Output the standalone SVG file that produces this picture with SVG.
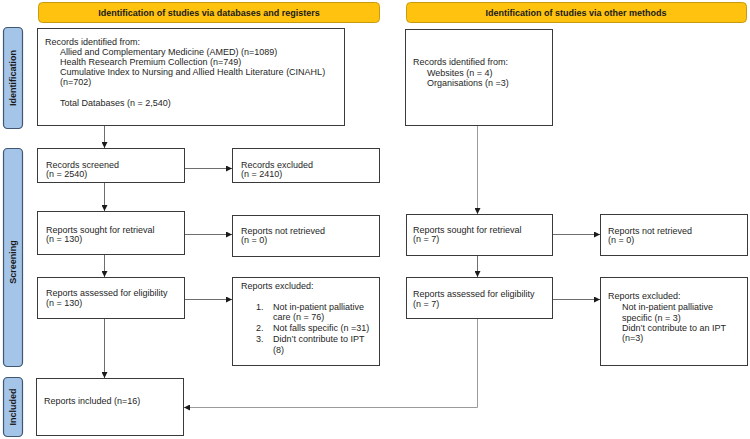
<svg xmlns="http://www.w3.org/2000/svg" width="750" height="439" viewBox="0 0 750 439">
<defs>
<style>
.hdr{fill:#FFC20E;stroke:#C89A10;stroke-width:1}
.side{fill:#A4C4E8;stroke:#3F5770;stroke-width:1.2}
.box{fill:#fff;stroke:#3a3a3a;stroke-width:1}
text{font-family:"Liberation Sans",Arial,sans-serif;font-size:9px;fill:#262626}
.b{font-weight:bold;fill:#1a1a1a}
.ln{fill:none;stroke:#6e6e6e;stroke-width:1}
.ln2{fill:none;stroke:#9a9a9a;stroke-width:1}
</style>
<marker id="ah" viewBox="0 0 10 10" refX="10" refY="5" markerWidth="6" markerHeight="6" orient="auto" markerUnits="userSpaceOnUse">
<path d="M0,0 L10,5 L0,10 z" fill="#1a1a1a"/>
</marker>
</defs>
<rect width="750" height="439" fill="#fff"/>

<g id="header-left"><rect class="hdr" x="38.5" y="2.5" width="341" height="20" rx="4"/><text class="b" x="209" y="15.5" text-anchor="middle">Identification of studies via databases and registers</text></g>
<g id="header-right"><rect class="hdr" x="406.5" y="2.5" width="340" height="20" rx="4"/><text class="b" x="576" y="15.5" text-anchor="middle">Identification of studies via other methods</text></g>

<g id="side-identification"><rect class="side" x="3.5" y="27.5" width="19" height="101" rx="4"/><text class="b" transform="translate(16,78) rotate(-90)" text-anchor="middle">Identification</text></g>
<g id="side-screening"><rect class="side" x="3.5" y="148.5" width="19" height="218" rx="4"/><text class="b" transform="translate(16,262) rotate(-90)" text-anchor="middle">Screening</text></g>
<g id="side-included"><rect class="side" x="3.5" y="377.5" width="19" height="59" rx="4"/><text class="b" transform="translate(16,407) rotate(-90)" text-anchor="middle">Included</text></g>

<g id="records-identified"><rect class="box" x="37.5" y="28.5" width="307" height="97"/>
<text x="45" y="45">Records identified from:</text>
<text x="60" y="55">Allied and Complementary Medicine (AMED) (n=1089)</text>
<text x="60" y="65">Health Research Premium Collection (n=749)</text>
<text x="60" y="75">Cumulative Index to Nursing and Allied Health Literature (CINAHL)</text>
<text x="60" y="85">(n=702)</text>
<text x="60" y="106">Total Databases (n = 2,540)</text></g>

<g id="records-other"><rect class="box" x="405.5" y="29.5" width="147" height="96"/>
<text x="413" y="65">Records identified from:</text>
<text x="427" y="76">Websites (n = 4)</text>
<text x="427" y="86">Organisations (n =3)</text></g>

<g id="records-screened"><rect class="box" x="37.5" y="148.5" width="147" height="34"/>
<text x="46" y="168">Records screened</text><text x="46" y="177">(n = 2540)</text></g>

<g id="records-excluded"><rect class="box" x="232.5" y="148.5" width="147" height="34"/>
<text x="241" y="168">Records excluded</text><text x="241" y="177">(n = 2410)</text></g>

<g id="reports-sought"><rect class="box" x="37.5" y="211.5" width="147" height="43"/>
<text x="46" y="233">Reports sought for retrieval</text><text x="46" y="242">(n = 130)</text></g>

<g id="reports-not-retrieved"><rect class="box" x="232.5" y="215.5" width="147" height="41"/>
<text x="241" y="234">Reports not retrieved</text><text x="241" y="243">(n = 0)</text></g>

<g id="reports-assessed"><rect class="box" x="37.5" y="277.5" width="147" height="41"/>
<text x="46" y="296">Reports assessed for eligibility</text><text x="46" y="306">(n = 130)</text></g>

<g id="reports-excluded"><rect class="box" x="232.5" y="277.5" width="147" height="88"/>
<text x="241" y="289">Reports excluded:</text>
<text x="256" y="310">1.</text><text x="273" y="310">Not in-patient palliative</text>
<text x="273" y="320">care (n = 76)</text>
<text x="256" y="331">2.</text><text x="273" y="331">Not falls specific (n =31)</text>
<text x="256" y="342">3.</text><text x="273" y="342">Didn’t contribute to IPT</text>
<text x="273" y="353">(8)</text></g>

<g id="reports-included"><rect class="box" x="36.5" y="378.5" width="147" height="57"/>
<text x="44" y="404">Reports included (n=16)</text></g>

<g id="reports-sought-other"><rect class="box" x="406.5" y="214.5" width="146" height="41"/>
<text x="413" y="233">Reports sought for retrieval</text><text x="413" y="242">(n = 7)</text></g>

<g id="reports-not-retrieved-other"><rect class="box" x="600.5" y="214.5" width="147" height="41"/>
<text x="608" y="234">Reports not retrieved</text><text x="608" y="243">(n = 0)</text></g>

<g id="reports-assessed-other"><rect class="box" x="406.5" y="277.5" width="146" height="41"/>
<text x="413" y="297">Reports assessed for eligibility</text><text x="413" y="307">(n = 7)</text></g>

<g id="reports-excluded-other"><rect class="box" x="600.5" y="277.5" width="147" height="88"/>
<text x="608" y="299">Reports excluded:</text>
<text x="622" y="310">Not in-patient palliative</text>
<text x="622" y="321">specific (n = 3)</text>
<text x="622" y="331">Didn’t contribute to an IPT</text>
<text x="622" y="341">(n=3)</text></g>

<g id="connectors">
<path class="ln" d="M104.5,126 V148" marker-end="url(#ah)"/>
<path class="ln" d="M185,168.5 H232" marker-end="url(#ah)"/>
<path class="ln" d="M104.5,183 V211" marker-end="url(#ah)"/>
<path class="ln" d="M185,234.5 H232" marker-end="url(#ah)"/>
<path class="ln" d="M104.5,255 V277" marker-end="url(#ah)"/>
<path class="ln" d="M185,299.5 H232" marker-end="url(#ah)"/>
<path class="ln" d="M104.5,319 V378" marker-end="url(#ah)"/>
<path class="ln2" d="M477.5,126 V214" marker-end="url(#ah)"/>
<path class="ln" d="M553,234.5 H600" marker-end="url(#ah)"/>
<path class="ln" d="M477.5,256 V277" marker-end="url(#ah)"/>
<path class="ln" d="M553,299.5 H600" marker-end="url(#ah)"/>
<path class="ln2" d="M477.5,319 V407.5 H184" marker-end="url(#ah)"/>
</g>
</svg>
